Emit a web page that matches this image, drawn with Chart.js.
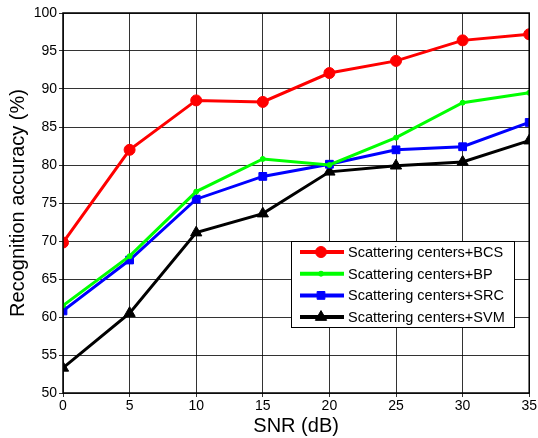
<!DOCTYPE html>
<html>
<head>
<meta charset="utf-8">
<script src="https://cdn.jsdelivr.net/npm/chart.js@4/dist/chart.umd.min.js"></script>
<style>
  html, body { margin: 0; padding: 0; background: #fff; }
  #wrap { width: 538px; height: 438px; }
</style>
</head>
<body>
<div id="wrap"><canvas id="chart" width="538" height="438"></canvas></div>
<script>
// ===============================
// DATA
// ===============================
const snr = [0, 5, 10, 15, 20, 25, 30, 35];
const bcs = [69.8, 82.0, 88.5, 88.3, 92.1, 93.7, 96.4, 97.2];
const bp  = [61.5, 68.0, 76.5, 80.8, 80.0, 83.6, 88.2, 89.5];
const src = [60.8, 67.5, 75.5, 78.5, 80.1, 82.0, 82.4, 85.6];
const svm = [53.3, 60.5, 71.1, 73.6, 79.1, 79.9, 80.4, 83.2];

const FONT = "'Liberation Sans', Arial, sans-serif";

function pts(vals) {
  return snr.map((x, i) => ({ x: x, y: vals[i] }));
}

function series(label, vals, color, style, radius) {
  return {
    label: label,
    data: pts(vals),
    borderColor: color,
    backgroundColor: color,
    borderWidth: 3,
    pointStyle: style,
    pointRadius: radius,
    pointHoverRadius: radius,
    pointBorderWidth: 1,
    tension: 0
  };
}

// box legend in the plot + frame round the axes
const boxPlugin = {
  id: "boxLegend",
  afterDraw(chart) {
    const ctx = chart.ctx;
    const a = chart.chartArea;
    ctx.save();
    ctx.strokeStyle = "#000";
    ctx.lineWidth = 1.5;
    ctx.strokeRect(a.left, a.top, a.right - a.left, a.bottom - a.top);

    // legend
    const x0 = 291, y0 = 241, w = 223, h = 86;
    ctx.fillStyle = "#fff";
    ctx.fillRect(x0, y0, w, h);
    ctx.lineWidth = 1;
    ctx.strokeRect(x0 + 0.5, y0 + 0.5, w, h);
    ctx.font = "14.5px " + FONT;
    ctx.textBaseline = "middle";
    chart.data.datasets.forEach((ds, i) => {
      const y = y0 + 11 + i * 21.7;
      ctx.strokeStyle = ds.borderColor;
      ctx.fillStyle = ds.borderColor;
      ctx.lineWidth = 4;
      ctx.beginPath();
      ctx.moveTo(x0 + 9, y);
      ctx.lineTo(x0 + 53, y);
      ctx.stroke();
      ctx.lineWidth = 1;
      Chart.helpers.drawPoint(ctx, {
        pointStyle: ds.pointStyle,
        radius: ds.pointRadius,
        borderWidth: 1
      }, x0 + 30, y);
      ctx.fillStyle = "#000";
      ctx.fillText(ds.label, x0 + 57, y + 1);
    });
    ctx.restore();
  }
};

document.addEventListener("DOMContentLoaded", () => {
  new Chart(document.getElementById("chart"), {
    type: "line",
    data: {
      datasets: [
        series("Scattering centers+BCS", bcs, "#ff0000", "circle", 5.5),
        series("Scattering centers+BP", bp, "#00ff00", "circle", 2.5),
        series("Scattering centers+SRC", src, "#0000ff", "rect", 5.5),
        series("Scattering centers+SVM", svm, "#000000", "triangle", 6.5)
      ]
    },
    options: {
      responsive: false,
      animation: false,
      layout: { padding: { left: 0, top: 13, right: 7, bottom: 0 } },
      plugins: { legend: { display: false }, tooltip: { enabled: false } },
      scales: {
        x: {
          type: "linear",
          min: 0, max: 35,
          ticks: { stepSize: 5, color: "#000", font: { family: FONT, size: 14 }, padding: 1 },
          grid: { color: "rgba(0,0,0,0.8)", lineWidth: 1, tickLength: 4 },
          border: { display: false },
          title: { display: true, text: "SNR (dB)", color: "#000", font: { family: FONT, size: 20 }, padding: { top: 0, bottom: 0 } },
          afterFit(scale) { scale.height = 45; }
        },
        y: {
          min: 50, max: 100,
          ticks: { stepSize: 5, color: "#000", font: { family: FONT, size: 14 }, padding: 2 },
          grid: { color: "rgba(0,0,0,0.8)", lineWidth: 1, tickLength: 4 },
          border: { display: false },
          title: { display: true, text: "Recognition accuracy (%)", color: "#000", font: { family: FONT, size: 20 }, padding: { top: 6, bottom: 0 } },
          afterFit(scale) { scale.width = 63; }
        }
      }
    },
    plugins: [boxPlugin]
  });
});
</script>
</body>
</html>
